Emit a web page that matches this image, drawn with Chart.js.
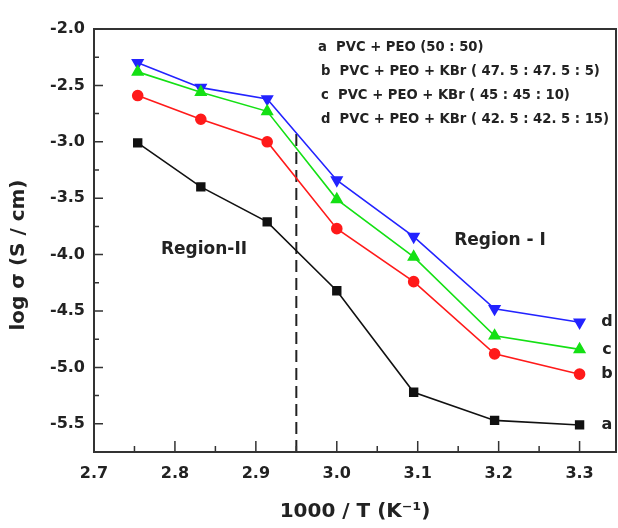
<!DOCTYPE html>
<html lang="en">
<head>
  <meta charset="UTF-8">
  <title>log σ vs 1000/T - PVC + PEO + KBr</title>
  <script src="https://cdn.jsdelivr.net/npm/chart.js"></script>
  <style>
    body { margin: 0; background: #fff; }
    #wrap { width: 618px; height: 528px; }
  </style>
</head>
<body>
  <div id="wrap"><canvas id="chartSigma" width="618" height="528"></canvas></div>

  <script>
    // 1000/T values (K^-1)
    const invT = [2.754, 2.832, 2.914, 3.0, 3.095, 3.195, 3.3];

    // log sigma (S/cm) for each film
    const sigmaA = [-3.01, -3.40, -3.71, -4.32, -5.22, -5.47, -5.51];
    const sigmaB = [-2.59, -2.80, -3.00, -3.77, -4.24, -4.88, -5.06];
    const sigmaC = [-2.38, -2.56, -2.73, -3.51, -4.02, -4.72, -4.84];
    const sigmaD = [-2.30, -2.52, -2.62, -3.34, -3.84, -4.48, -4.60];

    const xTicks = [2.7, 2.8, 2.9, 3.0, 3.1, 3.2, 3.3];
    const yTicks = [-2.0, -2.5, -3.0, -3.5, -4.0, -4.5, -5.0, -5.5];

    // boundary between the two regions
    const boundaryX = 2.95;
    const boundaryTop = -2.9;

    const seriesTags = ['a', 'b', 'c', 'd'];
    const legendLines = [
      'a  PVC + PEO (50 : 50)',
      'b  PVC + PEO + KBr ( 47. 5 : 47. 5 : 5)',
      'c  PVC + PEO + KBr ( 45 : 45 : 10)',
      'd  PVC + PEO + KBr ( 42. 5 : 42. 5 : 15)'
    ];
    const xTitle = '1000 / T (K⁻¹)';
    const yTitle = 'log σ (S / cm)';

    const FONT = '"DejaVu Sans", Arial, sans-serif';
    const INK = '#222';

    const pts = ys => invT.map((x, i) => ({ x: x, y: ys[i] }));

    // frame, inward ticks, titles and text labels
    const decor = {
      id: 'decor',
      afterDraw(chart) {
        const ctx = chart.ctx;
        const a = chart.chartArea;
        const xs = chart.scales.x, ys = chart.scales.y;
        ctx.save();
        ctx.strokeStyle = '#333';
        ctx.lineWidth = 2;
        ctx.strokeRect(a.left, a.top, a.right - a.left, a.bottom - a.top);

        ctx.lineWidth = 1.5;
        ctx.beginPath();
        xTicks.forEach(v => {
          const p = xs.getPixelForValue(v);
          ctx.moveTo(p, a.bottom); ctx.lineTo(p, a.bottom - 11);
          const m = xs.getPixelForValue(v + 0.05);
          if (m < a.right - 2) { ctx.moveTo(m, a.bottom); ctx.lineTo(m, a.bottom - 6); }
        });
        yTicks.forEach(v => {
          const p = ys.getPixelForValue(v);
          ctx.moveTo(a.left, p); ctx.lineTo(a.left + 9, p);
          const m = ys.getPixelForValue(v - 0.25);
          if (m < a.bottom - 2) { ctx.moveTo(a.left, m); ctx.lineTo(a.left + 5, m); }
        });
        ctx.stroke();

        ctx.fillStyle = INK;
        ctx.textBaseline = 'middle';

        // axis titles
        ctx.font = 'bold 20px ' + FONT;
        ctx.textAlign = 'center';
        ctx.fillText(xTitle, (a.left + a.right) / 2, 512);
        ctx.save();
        ctx.translate(19, 255);
        ctx.rotate(-Math.PI / 2);
        ctx.fillText(yTitle, 0, 0);
        ctx.restore();

        // composition legend
        ctx.font = 'bold 13.2px ' + FONT;
        ctx.textAlign = 'left';
        legendLines.forEach((t, i) => {
          ctx.fillText(t, i === 0 ? 318 : 321, 48 + i * 24);
        });

        // region labels
        ctx.font = 'bold 17px ' + FONT;
        ctx.textAlign = 'center';
        ctx.fillText('Region-II', 204, 250);
        ctx.fillText('Region - I', 500, 241);

        // curve tags at the right end
        ctx.font = 'bold 16px ' + FONT;
        const last = invT.length - 1;
        [sigmaA, sigmaB, sigmaC, sigmaD].forEach((s, i) => {
          ctx.fillText(seriesTags[i], 607, ys.getPixelForValue(s[last]));
        });
        ctx.restore();
      }
    };

    const ctxSigma = document.getElementById('chartSigma').getContext('2d');
    const chartSigma = new Chart(ctxSigma, {
      type: 'scatter',
      data: {
        datasets: [
          { label: 'a', data: pts(sigmaA), showLine: true, borderColor: '#111', backgroundColor: '#111',
            borderWidth: 1.6, pointStyle: 'rect', pointRadius: 5.5 },
          { label: 'b', data: pts(sigmaB), showLine: true, borderColor: '#ff1a1a', backgroundColor: '#ff1a1a',
            borderWidth: 1.6, pointStyle: 'circle', pointRadius: 5 },
          { label: 'c', data: pts(sigmaC), showLine: true, borderColor: '#14e014', backgroundColor: '#14e014',
            borderWidth: 1.6, pointStyle: 'triangle', pointRadius: 6 },
          { label: 'd', data: pts(sigmaD), showLine: true, borderColor: '#2323ff', backgroundColor: '#2323ff',
            borderWidth: 1.6, pointStyle: 'triangle', rotation: 180, pointRadius: 6 },
          { label: 'boundary', data: [{ x: boundaryX, y: -5.75 }, { x: boundaryX, y: boundaryTop }],
            showLine: true, borderColor: '#222', borderWidth: 2, borderDash: [12, 6], pointRadius: 0 }
        ]
      },
      options: {
        responsive: false,
        animation: false,
        layout: { autoPadding: false, padding: { top: 29, right: 2, left: 0, bottom: 0 } },
        plugins: { legend: { display: false }, tooltip: { enabled: false } },
        scales: {
          x: {
            type: 'linear', min: 2.7, max: 3.345,
            afterBuildTicks: s => { s.ticks = xTicks.map(v => ({ value: v })); },
            afterFit: s => { s.height = 76; },
            grid: { display: false, drawTicks: false },
            border: { display: false },
            ticks: { padding: 12, color: INK, font: { family: FONT, size: 16, weight: 'bold' },
                     callback: v => v.toFixed(1), maxRotation: 0 }
          },
          y: {
            type: 'linear', min: -5.75, max: -2.0,
            afterBuildTicks: s => { s.ticks = yTicks.map(v => ({ value: v })); },
            afterFit: s => { s.width = 94; },
            grid: { display: false, drawTicks: false },
            border: { display: false },
            ticks: { padding: 9, color: INK, font: { family: FONT, size: 16, weight: 'bold' },
                     callback: v => v.toFixed(1) }
          }
        }
      },
      plugins: [decor]
    });
  </script>
</body>
</html>
